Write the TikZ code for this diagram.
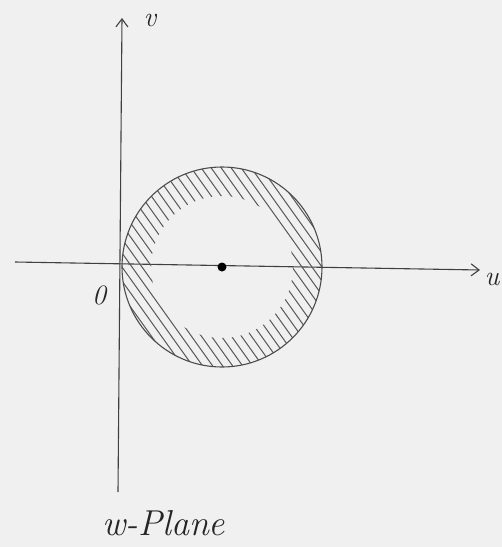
\documentclass[tikz,border=0pt]{standalone}
\usetikzlibrary{arrows.meta,calc}
\begin{document}
\begin{tikzpicture}[x=1pt,y=-1pt,
  axis/.style={line width=1.1pt,draw=black!75},
  hatchline/.style={line width=1pt,draw=black!65},
  lbl/.style={inner sep=0pt,font=\fontsize{28}{30}\selectfont\itshape,text=black!85}]
\useasboundingbox[fill=black!6] (0,0) rectangle (502,547);
\coordinate (c) at (222,267);
% axes
\coordinate (vb) at (118,492);
\coordinate (vt) at (122,18);
\coordinate (ul) at (15,262);
\coordinate (ur) at (480,270);
\draw[axis,-{Straight Barb[length=8pt,width=12pt]}] (vb) -- (vt);
\draw[axis,-{Straight Barb[length=8pt,width=12pt]}] (ul) -- (ur);
% hatching in annular band
\begin{scope}[even odd rule]
  \clip (c) circle[radius=100] (c) circle[radius=71];
  \foreach \k in {-36,...,36}{
    \draw[hatchline] ($(c)+(\k*10-80,-112)$) -- ++(160,224);
  }
\end{scope}
\node[draw=black!70,line width=1.1pt,circle,minimum size=200pt,inner sep=0pt] (circ) at (c) {};
\node[circle,fill=black,minimum size=9pt,inner sep=0pt] (ctr) at (c) {};
% labels
\node[lbl] (v) at (150,20) {v};
\node[lbl] (u) at (492,279) {u};
\node[lbl] (o) at (99,295) {0};
\node[lbl,anchor=west,font=\fontsize{36}{38}\selectfont\itshape] (wp) at (102,523) {w-Plane};
\end{tikzpicture}
\end{document}
